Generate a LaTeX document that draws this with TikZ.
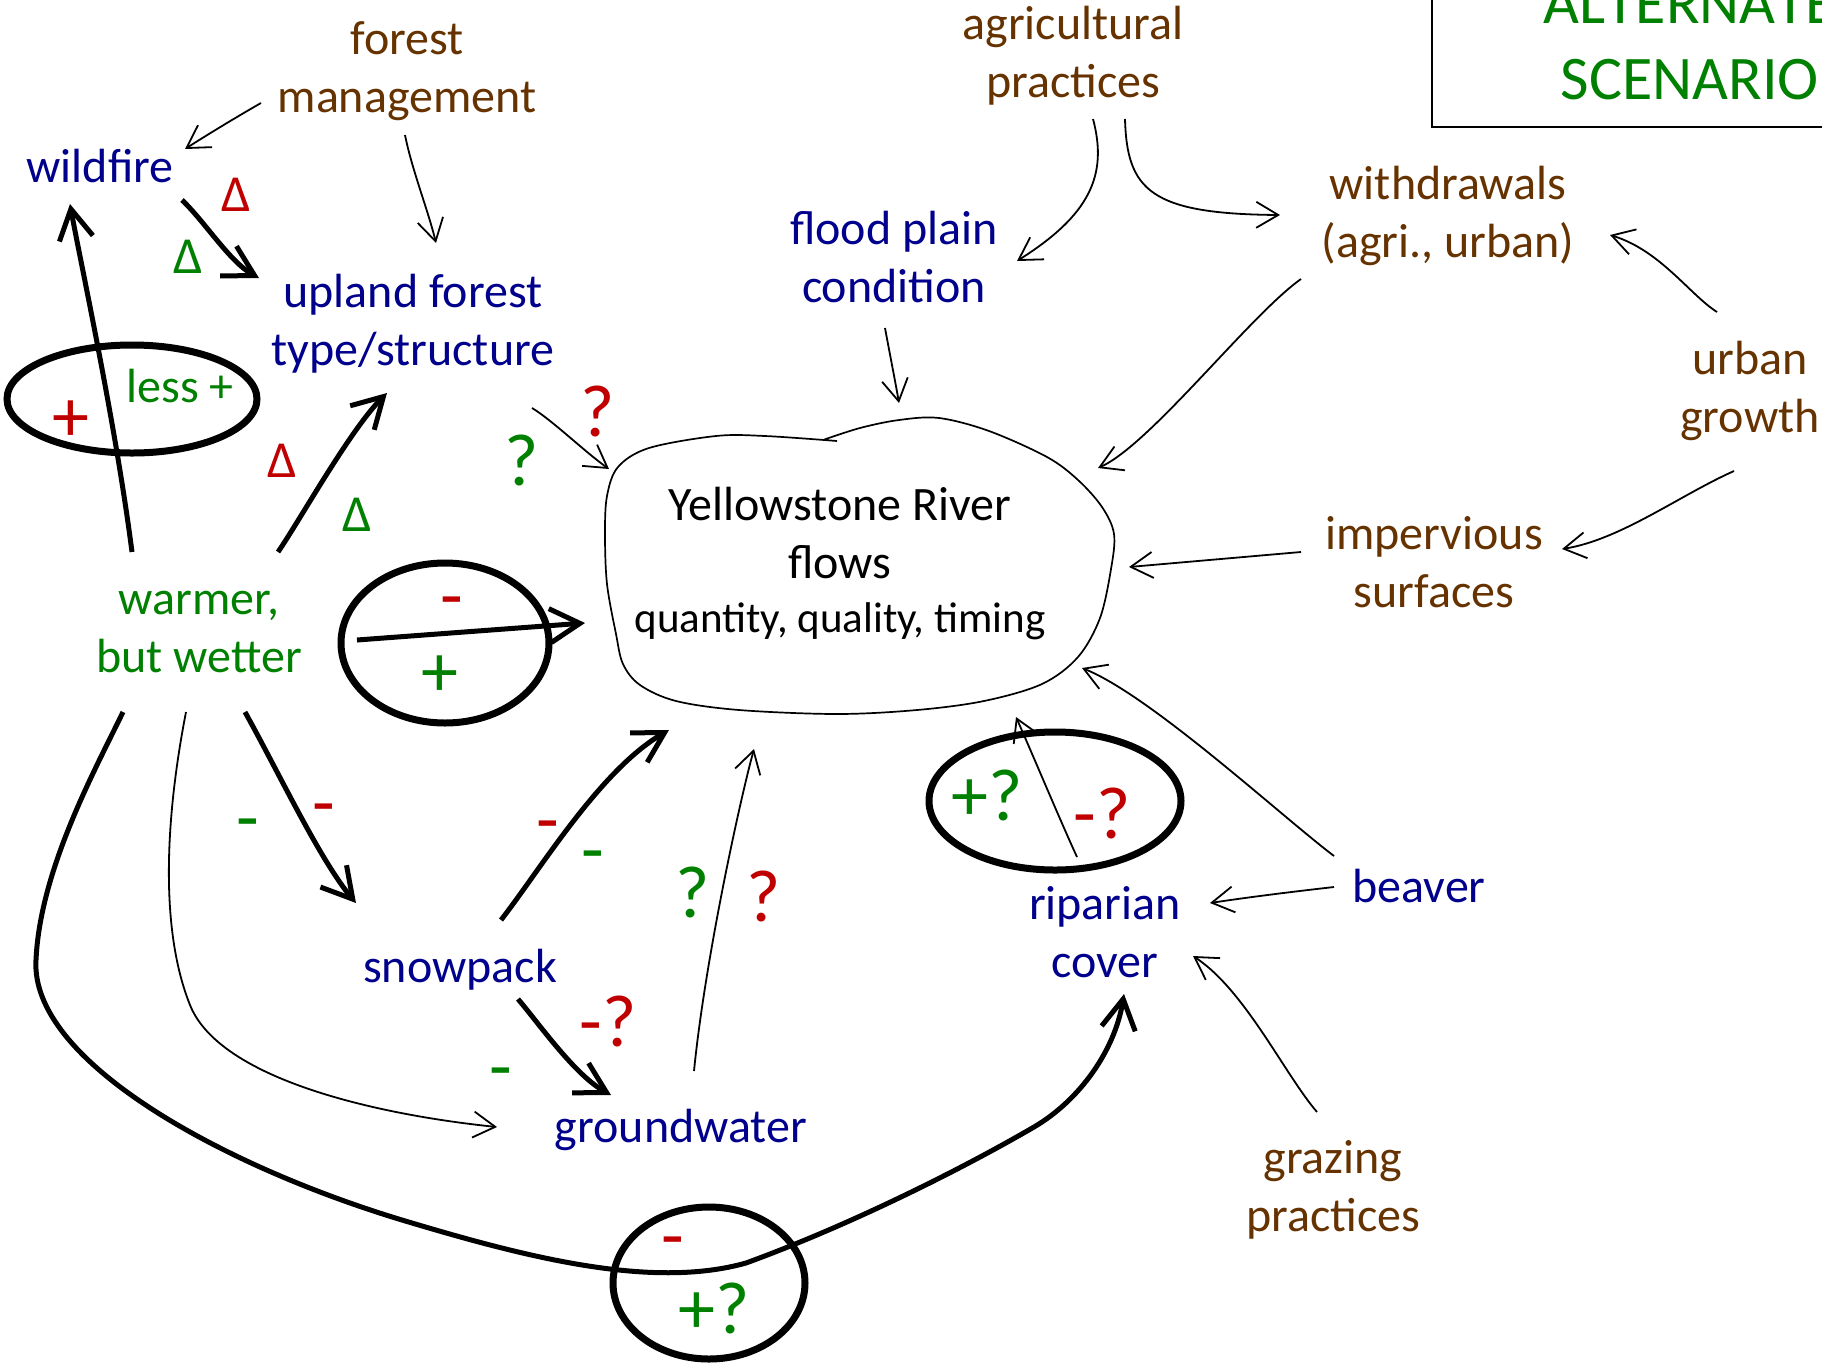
\documentclass[tikz,border=0pt]{standalone}
\usepackage{fontspec}
\setmainfont{Carlito}
\usetikzlibrary{arrows.meta}
\definecolor{navy}{RGB}{0,0,140}
\definecolor{soil}{RGB}{102,51,0}
\definecolor{leaf}{RGB}{0,128,0}
\definecolor{alarm}{RGB}{192,0,0}
\tikzset{
  txt/.style={anchor=base, align=center, inner sep=0pt, font=\fontsize{48}{58}\selectfont},
  actor/.style={txt, text=navy},
  driver/.style={txt, text=soil},
  clim/.style={txt, text=leaf},
  sign/.style={inner sep=0pt, text height=47pt, text depth=0pt, font=\fontsize{74}{88}\selectfont},
  dsign/.style={inner sep=0pt, text height=33pt, text depth=0pt, font=\fontsize{52}{62}\selectfont},
  weak/.style={line width=1.8pt, -{Straight Barb[length=22pt,width=26pt]}},
  strong/.style={line width=5pt, -{Straight Barb[length=30pt,width=34pt]}},
  ring/.style={line width=7pt},
}
\begin{document}
\begin{tikzpicture}[x=1pt,y=-1pt]
\useasboundingbox (0,0) rectangle (1822,1363);
\clip (0,0) rectangle (1822,1363);
\fill[white] (0,0) rectangle (1822,1363);

% factors (each node sits on the baseline of its last line)
\node[driver] (fm) at (407,112) {forest\\management};
\node[actor]  (wf) at (100,182) {wildfire};
\node[actor]  (up) at (413,365) {upland forest\\type/structure};
\node[driver] (ag) at (1073,97) {agricultural\\practices};
\node[actor]  (fp) at (894,302) {flood plain\\condition};
\node[driver] (wd) at (1448,257) {withdrawals\\(agri., urban)};
\node[driver] (ug) at (1750,432) {urban\\growth};
\node[driver] (im) at (1434,607) {impervious\\surfaces};
\node[txt]    (ys) at (840,632) {Yellowstone River\\flows\\[-4pt]{\fontsize{43}{50}\selectfont quantity, quality, timing}};
\node[clim]   (ww) at (199,672) {warmer,\\but wetter};
\node[actor]  (sp) at (460,982) {snowpack};
\node[actor]  (gw) at (681,1142) {groundwater};
\node[actor]  (rc) at (1105,977) {riparian\\cover};
\node[actor]  (bv) at (1419,902) {beaver};
\node[driver] (gr) at (1333,1231) {grazing\\practices};

% scenario title box
\node[txt, text=leaf, font=\fontsize{62}{76}\selectfont\addfontfeatures{Kerning=Off}] (alt) at (1690,99) {ALTERNATE\\SCENARIO};
\draw[line width=2pt] ([shift={(-258,28)}]alt.base) rectangle ([shift={(300,-226)}]alt.base);

% river flows outline
\draw[line width=1.7pt] plot[smooth, tension=0.55] coordinates {(823,440) (860,428) (899,420) (939,418) (989,431) (1047,457) (1078,480) (1102,507) (1114,534) (1111,569) (1100,618) (1078,657) (1042,684) (984,701) (917,710) (837,714) (739,710) (676,701) (640,685) (623,664) (616,634) (607,584) (605,534) (607,496) (618,467) (649,448) (716,436) (765,436) (837,441)};

% rings around contested links
\draw[ring] (132,399) ellipse [x radius=125pt, y radius=54pt];
\draw[ring] (445,643) ellipse [x radius=104pt, y radius=80pt];
\draw[ring] (1055,801) ellipse [x radius=126pt, y radius=69pt];
\draw[ring] (709,1283) ellipse [x radius=96pt, y radius=76pt];

% thin influences
\draw[weak] ([shift={(-146,-9)}]fm.base) .. controls (240,115) and (210,133) .. ([shift={(85,-33)}]wf.base);
\draw[weak] ([shift={(-2,23)}]fm.base) .. controls (412,170) and (428,210) .. ([shift={(23,-122)}]up.base);
\draw[weak] ([shift={(20,22)}]ag.base) .. controls (1108,175) and (1090,215) .. ([shift={(123,-41)}]fp.base);
\draw[weak] ([shift={(52,22)}]ag.base) .. controls (1127,190) and (1150,214) .. ([shift={(-168,-42)}]wd.base);
\draw[weak] ([shift={(-9,26)}]fp.base) .. controls (890,355) and (895,380) .. ([shift={(59,-229)}]ys.base);
\draw[weak] ([shift={(-147,22)}]wd.base) .. controls (1250,315) and (1150,445) .. ([shift={(258,-164)}]ys.base);
\draw[weak] ([shift={(-33,-120)}]ug.base) .. controls (1690,295) and (1660,250) .. ([shift={(162,-22)}]wd.base);
\draw[weak] ([shift={(-16,39)}]ug.base) .. controls (1680,495) and (1620,540) .. ([shift={(128,-58)}]im.base);
\draw[weak] ([shift={(-133,-55)}]im.base) -- ([shift={(289,-65)}]ys.base);
\draw[weak] ([shift={(119,43)}]up.base) .. controls (552,420) and (585,452) .. ([shift={(-231,-163)}]ys.base);
\draw[weak] ([shift={(-85,-15)}]bv.base) .. controls (1290,892) and (1250,897) .. ([shift={(105,-74)}]rc.base);
\draw[weak] ([shift={(-85,-46)}]bv.base) .. controls (1280,815) and (1150,695) .. ([shift={(242,36)}]ys.base);
\draw[weak] ([shift={(-16,-119)}]gr.base) .. controls (1285,1075) and (1245,990) .. ([shift={(88,-21)}]rc.base);
\draw[weak] ([shift={(-28,-120)}]rc.base) .. controls (1060,820) and (1035,760) .. ([shift={(176,85)}]ys.base);
\draw[weak] ([shift={(13,-71)}]gw.base) .. controls (705,960) and (740,800) .. ([shift={(-86,117)}]ys.base);
\draw[weak] ([shift={(-13,40)}]ww.base) .. controls (165,820) and (160,930) .. (190,1005) .. controls (220,1080) and (380,1115) .. ([shift={(-184,-15)}]gw.base);

% climate-driven influences
\draw[strong] ([shift={(-67,-120)}]ww.base) .. controls (115,420) and (80,260) .. ([shift={(-30,22)}]wf.base);
\draw[strong] ([shift={(82,18)}]wf.base) .. controls (205,222) and (230,262) .. ([shift={(-154,-87)}]up.base);
\draw[strong] ([shift={(79,-120)}]ww.base) .. controls (300,520) and (350,430) .. ([shift={(-26,28)}]up.base);
\draw[strong] ([shift={(158,-32)}]ww.base) -- ([shift={(-255,-9)}]ys.base);
\draw[strong] ([shift={(46,40)}]ww.base) .. controls (280,775) and (320,860) .. ([shift={(-104,-79)}]sp.base);
\draw[strong] ([shift={(41,-62)}]sp.base) .. controls (540,870) and (600,770) .. ([shift={(-171,98)}]ys.base);
\draw[strong] ([shift={(58,17)}]sp.base) .. controls (540,1025) and (575,1075) .. ([shift={(-70,-47)}]gw.base);
\draw[strong] ([shift={(-76,40)}]ww.base) .. controls (95,770) and (40,870) .. (36,960)
  .. controls (30,1060) and (220,1165) .. (402,1220)
  .. controls (522,1256) and (650,1290) .. (746,1263)
  .. controls (850,1225) and (960,1170) .. (1034,1127)
  .. controls (1080,1100) and (1115,1050) .. ([shift={(19,17)}]rc.base);

% signs of the effects
\node[dsign, text=alarm] (d1) at (236,195) {Δ};
\node[dsign, text=leaf]  (d2) at (188,257) {Δ};
\node[dsign, text=alarm] (d3) at (282,461) {Δ};
\node[dsign, text=leaf]  (d4) at (357,515) {Δ};
\node[sign, text=alarm]  (q1) at (598,413) {?};
\node[sign, text=leaf]   (q2) at (522,462) {?};
\node[inner sep=0pt, text height=30pt, text depth=0pt, font=\fontsize{48}{58}\selectfont, text=leaf] (l1) at (180,387) {less +};
\node[sign, text=alarm]  (p1) at (71,418) {+};
\node[sign, text=alarm]  (m1) at (452,597) {-};
\node[sign, text=leaf]   (p2) at (440,673) {+};
\node[sign, text=leaf]   (m2) at (248,819) {-};
\node[sign, text=alarm]  (m3) at (324,804) {-};
\node[sign, text=alarm]  (m4) at (548,821) {-};
\node[sign, text=leaf]   (m5) at (593,851) {-};
\node[sign, text=leaf]   (q3) at (693,894) {?};
\node[sign, text=alarm]  (q4) at (764,898) {?};
\node[sign, text=alarm]  (m6) at (608,1023) {-?};
\node[sign, text=leaf]   (m7) at (501,1068) {-};
\node[sign, text=leaf]   (p3) at (987,797) {+?};
\node[sign, text=alarm]  (m8) at (1102,815) {-?};
\node[sign, text=alarm]  (m9) at (673,1237) {-};
\node[sign, text=leaf]   (p4) at (714,1310) {+?};
\end{tikzpicture}
\end{document}
